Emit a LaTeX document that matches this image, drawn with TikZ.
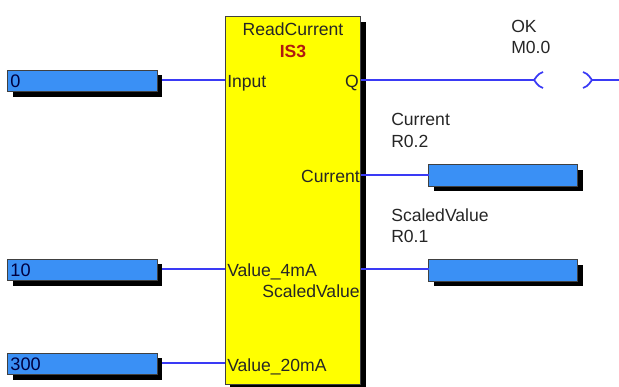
\documentclass[tikz,border=0pt]{standalone}
\usepackage{fontspec}
\setmainfont{Liberation Sans}
\usetikzlibrary{shadows,backgrounds}

\tikzset{
  wire/.style={draw=wireblue, line width=1.25pt},
  tag/.style={fill=tagblue, draw=black!75, line width=0.7pt, inner sep=0pt, minimum width=106pt, minimum height=15.2pt, font=\fontsize{12.9}{15.3}\selectfont, text=black!75!blue, drop shadow={shadow xshift=3.6pt, shadow yshift=-3.6pt, opacity=1, fill=black}},
  label/.style={font=\fontsize{12.5}{15.3}\selectfont, inner sep=0pt, text=black!85},
}
\definecolor{wireblue}{HTML}{3A3AF5}
\definecolor{tagblue}{HTML}{3A90F5}
\definecolor{blockyellow}{HTML}{FFFF00}
\definecolor{instred}{HTML}{B01A10}

\begin{document}
\begin{tikzpicture}[x=0.025cm, y=-0.025cm]
        \useasboundingbox (0, 0) rectangle (619, 387);
        % Nodes
        \node (block) [rectangle, fill=blockyellow, draw=black!75, line width=0.7pt, minimum width=96.5pt, minimum height=261pt, inner sep=0pt, drop shadow={shadow xshift=3.6pt, shadow yshift=-3.6pt, opacity=1, fill=black}] at (293, 200.5) {};
        \node (name) [label, anchor=base] at (293, 36) {ReadCurrent};
        \node (inst) [label, anchor=base, text=instred, font=\fontsize{12.5}{15.3}\selectfont\bfseries] at (293, 58) {IS3};
        \node (input) [label, anchor=base west] at (227, 88) {Input};
        \node (q) [label, anchor=base east] at (359, 88) {Q};
        \node (current) [label, anchor=base east] at (360, 182) {Current};
        \node (value4) [label, anchor=base west] at (227, 276) {Value\_4mA};
        \node (scaled) [label, anchor=base east] at (360, 297) {ScaledValue};
        \node (value20) [label, anchor=base west] at (227, 371) {Value\_20mA};
        \node (const0) [tag, text width=102.5pt, align=left] at (82.5, 81) {0};
        \node (const10) [tag, text width=102.5pt, align=left] at (82.5, 270) {10};
        \node (const300) [tag, text width=102.5pt, align=left] at (82.5, 364) {300};
        \node (outcurrent) [tag] at (503, 175.5) {};
        \node (outscaled) [tag] at (503, 270.5) {};
        \node (oklabel) [label, align=left, anchor=west] at (511, 37) {OK\\M0.0};
        \node (currentlabel) [label, align=left, anchor=west] at (391, 130.5) {Current\\R0.2};
        \node (scaledlabel) [label, align=left, anchor=west] at (391, 225.5) {ScaledValue\\R0.1};
        \coordinate (coilin) at (534, 80);
        \coordinate (coilout) at (592, 80);
        \coordinate (railend) at (619, 80);
        \coordinate (pin0) at (225, 80);
        \coordinate (pin10) at (225, 269);
        \coordinate (pin300) at (225, 363);
        \coordinate (pincurrent) at (429, 175);
        \coordinate (pinscaled) at (429, 269);
        % Arrow
        \begin{scope}[on background layer]
        \draw[wire] (const0.east |- pin0) -- (pin0);
        \draw[wire] (const10.east |- pin10) -- (pin10);
        \draw[wire] (const300.east |- pin300) -- (pin300);
        \end{scope}
        \draw[wire] (coilin -| block.east) -- (coilin);
        \draw[wire] (pincurrent -| block.east) -- (pincurrent);
        \draw[wire] (pinscaled -| block.east) -- (pinscaled);
        \draw[wire] (coilout) -- (railend);
        \draw[wire] (543, 72) .. controls (537, 74) and (536, 78) .. (coilin) .. controls (536, 82) and (537, 86) .. (543, 88);
        \draw[wire] (583, 72) .. controls (589, 74) and (590, 78) .. (coilout) .. controls (590, 82) and (589, 86) .. (583, 88);
      \end{tikzpicture}
\end{document}
